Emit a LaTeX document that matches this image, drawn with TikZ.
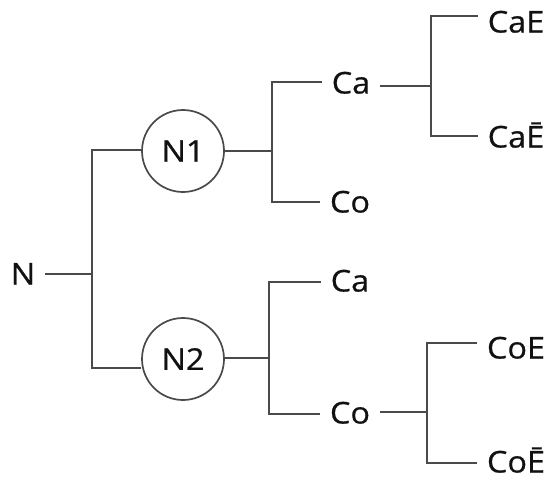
\documentclass[tikz,border=0pt]{standalone}
\usepackage{fontspec}
\setmainfont[FakeStretch=1.08,FakeBold=0.7]{Open Sans}
\definecolor{linegray}{HTML}{4A4A4A}
\definecolor{textcol}{HTML}{111111}
\begin{document}
\begin{tikzpicture}[x=1pt,y=-1pt,
  ln/.style={draw=linegray,line width=1.7pt},
  lbl/.style={inner xsep=10pt,inner ysep=0pt,text height=21pt,text depth=0pt,text=textcol,font=\fontsize{30}{34}\selectfont},
  circ/.style={circle,draw=linegray,line width=1.7pt,minimum size=82pt,inner sep=0pt,text=textcol,font=\fontsize{30}{34}\selectfont}]
\useasboundingbox (0,0) rectangle (551,479);
% nodes
\node[lbl] (n) at (23,274) {N};
\node[circ] (n1) at (183,151) {N1};
\node[circ] (n2) at (183,359) {N2};
\node[lbl] (ca1) at (351,83) {Ca};
\node[lbl] (co1) at (350,202) {Co};
\node[lbl] (cae) at (516,22) {CaE};
\node[lbl] (caeb) at (516,137) {CaĒ};
\node[lbl] (ca2) at (350,281) {Ca};
\node[lbl] (co2) at (350,413) {Co};
\node[lbl] (coe) at (516,348) {CoE};
\node[lbl] (coeb) at (516,462) {CoĒ};
% junctions
\coordinate (j0) at (92,274);
\coordinate (j0t) at (92,150);
\coordinate (j0b) at (92,368);
\coordinate (j1) at (272,151);
\coordinate (j1t) at (272,82);
\coordinate (j1b) at (272,202);
\coordinate (j2) at (431,86);
\coordinate (j2t) at (431,16);
\coordinate (j2b) at (431,136);
\coordinate (j3) at (269,358);
\coordinate (j3t) at (269,282);
\coordinate (j3b) at (269,414);
\coordinate (j4) at (427,412);
\coordinate (j4t) at (427,343);
\coordinate (j4b) at (427,463);
% connectors
\draw[ln] (n.east) -- (j0);
\draw[ln] (j0t -| n1.west) -- (j0t) -- (j0b) -- (j0b -| n2.west);
\draw[ln] (n1.east |- j1) -- (j1);
\draw[ln] (j1t -| ca1.west) -- (j1t) -- (j1b) -- (j1b -| co1.west);
\draw[ln] (ca1.east |- j2) -- (j2);
\draw[ln] (j2t -| cae.west) -- (j2t) -- (j2b) -- (j2b -| caeb.west);
\draw[ln] (n2.east |- j3) -- (j3);
\draw[ln] (j3t -| ca2.west) -- (j3t) -- (j3b) -- (j3b -| co2.west);
\draw[ln] (co2.east |- j4) -- (j4);
\draw[ln] (j4t -| coe.west) -- (j4t) -- (j4b) -- (j4b -| coeb.west);
\end{tikzpicture}
\end{document}
